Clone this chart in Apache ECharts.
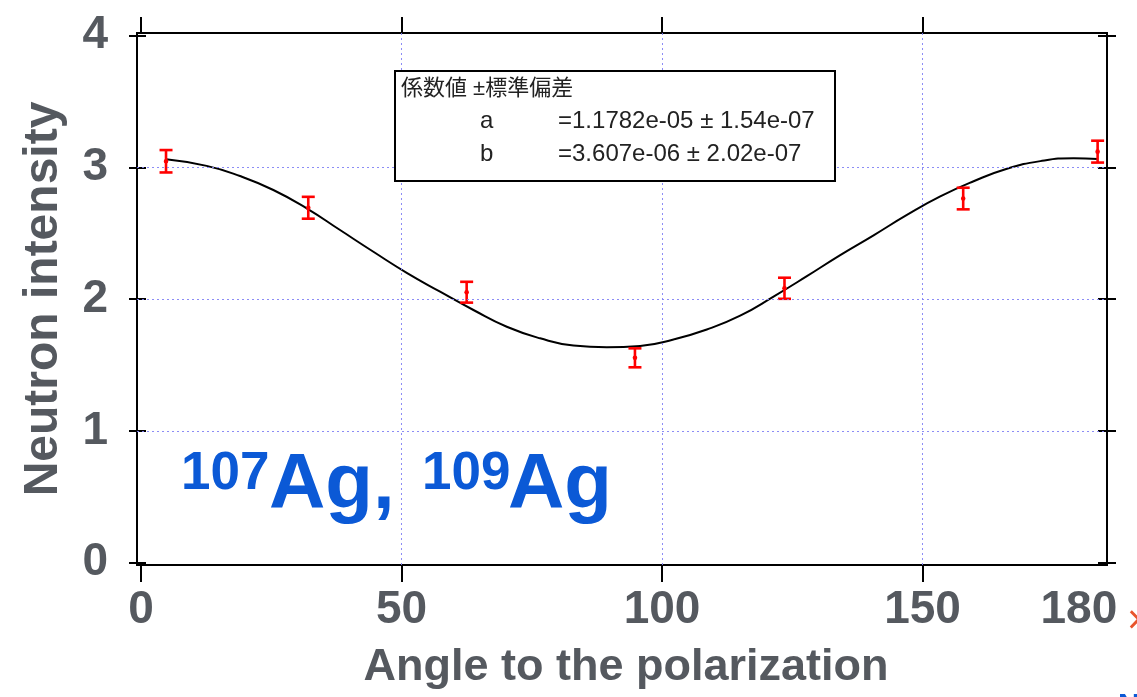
<!DOCTYPE html>
<html>
<head>
<meta charset="utf-8">
<script src="https://cdn.jsdelivr.net/npm/echarts@6/dist/echarts.min.js"></script>
<style>
  html, body { margin: 0; padding: 0; background: #fff; }
  #chart { width: 1137px; height: 697px; }
</style>
</head>
<body>
<div id="chart"></div>
<script>
// Measured intensities with their standard errors
const angles = [4.8, 32.1, 62.5, 94.8, 123.5, 157.8, 183.6];
const intensity = [3.047, 2.694, 2.053, 1.555, 2.083, 2.764, 3.12];
const intensityErr = [0.085, 0.083, 0.079, 0.072, 0.080, 0.082, 0.083];

// Fitted curve, sampled along the angle axis
const fitAngles = [4.8, 12.6, 19.0, 25.4, 31.8, 38.2, 44.6, 51.0, 57.4, 63.8, 70.2, 76.6, 83.0, 89.4,
  95.8, 102.2, 108.6, 115.0, 121.4, 127.8, 134.2, 140.6, 147.0, 153.4, 159.8, 166.2, 172.6, 179.0, 183.6];
const fitIntensity = [3.062, 3.012, 2.935, 2.829, 2.69, 2.525, 2.36, 2.200, 2.057, 1.918, 1.791, 1.703, 1.648, 1.635,
  1.645, 1.694, 1.770, 1.875, 2.020, 2.175, 2.335, 2.485, 2.640, 2.780, 2.895, 2.990, 3.048, 3.070, 3.064];

// Tick positions and labels
const xTicks = [0, 50, 100, 150];
const xTickLabels = [0, 50, 100, 150, 180];
const yTicks = [0, 1, 2, 3, 4];
const xGridLines = [50, 100, 150];
const yGridLines = [1, 2, 3];

// Fit-parameter box text
const fitHeader = '係数値 ±標準偏差';
const fitNames = ['a', 'b'];
const fitValues = ['=1.1782e-05 ± 1.54e-07', '=3.607e-06 ± 2.02e-07'];

const X_MIN = -0.77, X_MAX = 185.4;
const Y_MIN = -0.0175, Y_MAX = 4.0205;

const GRAY = '#55595f';
const BLUE = '#0b59d6';
const FONT = "'Liberation Sans', Arial, sans-serif";
const BOX_FONT = "'Liberation Sans', 'Noto Sans CJK JP', sans-serif";

const chart = echarts.init(document.getElementById('chart'));

function xAxisDef(position, tickLen, showLabels) {
  return {
    type: 'value', position: position, min: X_MIN, max: X_MAX,
    axisLine: { show: true, onZero: false, lineStyle: { color: '#000', width: 2 } },
    axisTick: { show: true, inside: false, length: tickLen, customValues: xTicks,
      lineStyle: { color: '#000', width: 2 } },
    axisLabel: { show: showLabels, customValues: xTickLabels, margin: 22,
      fontSize: 46, fontWeight: 'bold', fontFamily: FONT, color: GRAY },
    splitLine: { show: false }
  };
}
function yAxisDef(position, inside, tickLen, showLabels) {
  return {
    type: 'value', position: position, min: Y_MIN, max: Y_MAX,
    axisLine: { show: true, onZero: false, lineStyle: { color: '#000', width: 2 } },
    axisTick: { show: true, inside: inside, length: tickLen, customValues: yTicks,
      lineStyle: { color: '#000', width: 2 } },
    axisLabel: { show: showLabels, customValues: yTicks, margin: 29,
      fontSize: 46, fontWeight: 'bold', fontFamily: FONT, color: GRAY },
    splitLine: { show: false }
  };
}

const gridLineData = xGridLines.map(v => ({ xAxis: v })).concat(yGridLines.map(v => ({ yAxis: v })));

const option = {
  animation: false,
  backgroundColor: '#fff',
  grid: { left: 137, right: 30, top: 33, bottom: 132, containLabel: false },
  xAxis: [xAxisDef('bottom', 17, true), xAxisDef('top', 16, false)],
  yAxis: [
    yAxisDef('left', true, 9, true),
    yAxisDef('left', false, 8, false),
    yAxisDef('right', true, 9, false),
    yAxisDef('right', false, 9, false)
  ],
  series: [
    {
      // dotted reference grid
      type: 'scatter', data: [], z: 1, silent: true,
      markLine: {
        silent: true, symbol: ['none', 'none'], label: { show: false },
        lineStyle: { color: '#7f7ff5', width: 1, type: [2, 3], opacity: 0.9 },
        emphasis: { disabled: true },
        data: gridLineData
      }
    },
    {
      type: 'line', z: 3,
      data: fitAngles.map((a, i) => [a, fitIntensity[i]]),
      smooth: 0.5, showSymbol: false, symbol: 'none',
      lineStyle: { color: '#000', width: 2 }
    },
    {
      type: 'custom', z: 4,
      data: angles.map((a, i) => [a, intensity[i], intensityErr[i]]),
      renderItem: function (params, api) {
        const x = api.value(0), y = api.value(1), e = api.value(2);
        const top = api.coord([x, y + e]);
        const bot = api.coord([x, y - e]);
        const mid = api.coord([x, y]);
        const hw = 6.5;
        const st = { stroke: '#ff0000', lineWidth: 2.6 };
        return {
          type: 'group',
          children: [
            { type: 'line', shape: { x1: top[0], y1: top[1], x2: bot[0], y2: bot[1] }, style: st },
            { type: 'line', shape: { x1: top[0] - hw, y1: top[1], x2: top[0] + hw, y2: top[1] }, style: st },
            { type: 'line', shape: { x1: bot[0] - hw, y1: bot[1], x2: bot[0] + hw, y2: bot[1] }, style: st },
            { type: 'circle', shape: { cx: mid[0], cy: mid[1], r: 2.3 }, style: { fill: '#ff0000' } }
          ]
        };
      }
    }
  ],
  graphic: [
    // axis titles
    { type: 'text', x: 43.5, y: 299, rotation: Math.PI / 2, z: 10,
      style: { text: 'Neutron intensity', fontSize: 48, fontWeight: 'bold', fontFamily: FONT,
        fill: GRAY, align: 'center', verticalAlign: 'middle' } },
    { type: 'text', x: 626, y: 668, z: 10,
      style: { text: 'Angle to the polarization', fontSize: 45, fontWeight: 'bold', fontFamily: FONT,
        fill: GRAY, align: 'center', verticalAlign: 'middle' } },
    // fit-parameter box
    { type: 'rect', z: 20, shape: { x: 395, y: 71, width: 440, height: 110 },
      style: { fill: '#fff', stroke: '#000', lineWidth: 2 } },
    { type: 'text', z: 21, x: 401, y: 89,
      style: { text: fitHeader, fontSize: 22, fontFamily: BOX_FONT, fill: '#222', align: 'left', verticalAlign: 'middle' } },
    { type: 'text', z: 21, x: 480, y: 121.5,
      style: { text: fitNames[0], fontSize: 24, fontFamily: BOX_FONT, fill: '#222', align: 'left', verticalAlign: 'middle' } },
    { type: 'text', z: 21, x: 558, y: 121.5,
      style: { text: fitValues[0], fontSize: 24, fontFamily: BOX_FONT, fill: '#222', align: 'left', verticalAlign: 'middle' } },
    { type: 'text', z: 21, x: 480, y: 154.5,
      style: { text: fitNames[1], fontSize: 24, fontFamily: BOX_FONT, fill: '#222', align: 'left', verticalAlign: 'middle' } },
    { type: 'text', z: 21, x: 558, y: 154.5,
      style: { text: fitValues[1], fontSize: 24, fontFamily: BOX_FONT, fill: '#222', align: 'left', verticalAlign: 'middle' } },
    // isotope label
    { type: 'text', z: 15, x: 181, y: 474.6,
      style: { text: '107', fontSize: 53, fontWeight: 'bold', fontFamily: FONT, fill: BLUE, align: 'left', verticalAlign: 'middle' } },
    { type: 'text', z: 15, x: 269, y: 486,
      style: { text: 'Ag,', fontSize: 78, fontWeight: 'bold', fontFamily: FONT, fill: BLUE, align: 'left', verticalAlign: 'middle' } },
    { type: 'text', z: 15, x: 422, y: 474.6,
      style: { text: '109', fontSize: 53, fontWeight: 'bold', fontFamily: FONT, fill: BLUE, align: 'left', verticalAlign: 'middle' } },
    { type: 'text', z: 15, x: 508, y: 486,
      style: { text: 'Ag', fontSize: 78, fontWeight: 'bold', fontFamily: FONT, fill: BLUE, align: 'left', verticalAlign: 'middle' } },
    // neighbouring marks at the right edge
    { type: 'text', z: 15, x: 1127, y: 622,
      style: { text: '×', fontSize: 40, fontFamily: FONT, fill: '#e8542c', align: 'left', verticalAlign: 'middle' } },
    { type: 'text', z: 15, x: 1118, y: 706,
      style: { text: 'N', fontSize: 30, fontWeight: 'bold', fontFamily: FONT, fill: BLUE, align: 'left', verticalAlign: 'middle' } }
  ]
};

chart.setOption(option);
</script>
</body>
</html>
